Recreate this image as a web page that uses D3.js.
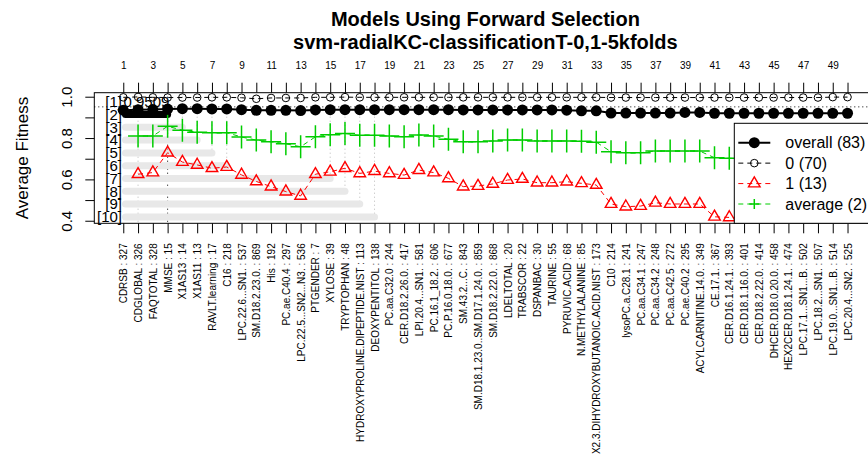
<!DOCTYPE html>
<html><head><meta charset="utf-8">
<script src="https://cdn.jsdelivr.net/npm/d3@7"></script>
<style>
body{margin:0;background:#fff}
svg{display:block}
text{font-family:"Liberation Sans", Arial, Helvetica, sans-serif}
</style>
</head><body>
<svg id="chart" width="868" height="474"></svg>
<script>
// ---------- data ----------
const features = ["CDRSB : 327","CDGLOBAL : 326","FAQTOTAL : 328","MMSE : 15","X1AS13 : 14","X1AS11 : 13",
"RAVLT.learning : 17","C16 : 218","LPC.22.6...SN1. : 537","SM.D18.2.23.0. : 869","His : 192","PC.ae.C40.4 : 297",
"LPC.22.5...SN2...N3. : 536","PTGENDER : 7","XYLOSE : 39","TRYPTOPHAN : 48","HYDROXYPROLINE.DIPEPTIDE.NIST : 113",
"DEOXYPENTITOL : 138","PC.aa.C32.0 : 244","CER.D18.2.26.0. : 417","LPI.20.4...SN1. : 581","PC.16.1_18.2. : 606",
"PC.P.16.0.18.0. : 677","SM.43.2...C. : 843","SM.D18.1.23.0..SM.D17.1.24.0. : 859","SM.D18.2.22.0. : 868",
"LDELTOTAL : 20","TRABSCOR : 22","DSPANBAC : 30","TAURINE : 55","PYRUVIC.ACID : 68","N.METHYLALANINE : 85",
"X2.3.DIHYDROXYBUTANOIC.ACID.NIST : 173","C10 : 214","lysoPC.a.C28.1 : 241","PC.aa.C34.1 : 247","PC.aa.C34.2 : 248",
"PC.aa.C42.5 : 272","PC.ae.C40.2 : 295","ACYLCARNITINE.14.0. : 349","CE.17.1. : 367","CER.D16.1.24.1. : 393",
"CER.D18.1.16.0. : 401","CER.D18.2.22.0. : 414","DHCER.D18.0.20.0. : 458","HEX2CER.D18.1.24.1. : 474",
"LPC.17.1...SN1...B. : 502","LPC.18.2...SN1. : 507","LPC.19.0...SN1...B. : 514","LPC.20.4...SN2. : 525"];

const topTicks = d3.range(1, 51);

const overall = [0.935,0.937,0.938,0.940,0.942,0.942,0.941,0.941,0.937,0.934,
0.934,0.934,0.933,0.936,0.937,0.937,0.937,0.937,0.937,0.937,
0.937,0.937,0.937,0.936,0.936,0.936,0.936,0.936,0.936,0.936,
0.935,0.932,0.932,0.921,0.921,0.921,0.921,0.921,0.924,0.924,
0.920,0.920,0.920,0.920,0.920,0.920,0.920,0.920,0.920,0.920];

const class0 = [0.997,0.999,0.997,0.996,0.996,0.996,0.997,0.997,0.995,0.990,
0.994,0.994,0.994,0.997,0.997,0.998,0.997,0.997,0.997,0.997,
0.997,0.997,0.997,0.997,0.997,0.997,0.997,0.997,0.997,0.997,
0.997,0.997,0.997,0.996,0.996,0.996,0.996,0.996,0.996,0.996,
0.996,0.996,0.996,0.996,0.996,0.996,0.996,0.996,0.998,0.998];

const class1 = [null,0.625,0.633,0.729,0.684,0.670,0.654,0.660,0.622,0.590,
0.565,0.541,0.520,0.625,0.637,0.654,0.629,0.640,0.629,0.621,
0.645,0.633,0.605,0.565,0.568,0.578,0.597,0.602,0.584,0.584,
0.589,0.581,0.573,0.481,0.468,0.471,0.487,0.481,0.481,0.481,
0.419,0.416,0.416,0.416,0.416,0.416,0.416,0.416,0.416,0.416];

const average = [null,0.810,0.810,0.857,0.838,0.828,0.826,0.826,0.805,0.790,
0.782,0.772,0.758,0.806,0.816,0.822,0.813,0.813,0.810,0.806,
0.815,0.810,0.794,0.782,0.782,0.786,0.790,0.790,0.786,0.786,
0.786,0.784,0.780,0.734,0.729,0.729,0.737,0.737,0.737,0.737,
0.705,0.702,0.702,0.702,0.702,0.702,0.702,0.702,0.702,0.702];

const yTicks = [0.4,0.5,0.6,0.7,0.8,0.9,1.0];
const yTickLabels = ["0.4","","0.6","","0.8","","1.0"];

const rankRows = ["[1]","[2]","[3]","[4]","[5]","[6]","[7]","[8]","[9]","[10]"];
const rankEnds = [2,4,5,6,7,8,15,16,17,18];
const bestValue = 0.9509;
const bestValueText = "0.9509";
const bestIndex = 4;

const legendLabels = ["overall (83)","0 (70)","1 (13)","average (2)"];
const titleLines = ["Models Using Forward Selection","svm-radialKC-classificationT-0,1-5kfolds"];
const yTitle = "Average Fitness";

// ---------- layout ----------
const svg = d3.select("#chart");
const box = {left:94.3, right:876.5, top:92.7, bottom:223.3};
const RED = "#ff0000", GREEN = "#00cd00";

const x = d3.scaleLinear().domain([1 - 0.04*49, 50 + 0.04*49]).range([box.left, box.right]);
const y = d3.scaleLinear().domain([0.3876, 1.0194]).range([box.bottom, box.top]);
const rowY = d3.scalePoint().domain(d3.range(1, 11)).range([101.7, 216.9]);

// title
const title = svg.append("g").attr("font-weight","bold").attr("font-size",20).attr("text-anchor","middle");
title.append("text").attr("x",(box.left+box.right)/2).attr("y",25.5).text(titleLines[0]);
title.append("text").attr("x",(box.left+box.right)/2).attr("y",48.5).text(titleLines[1]);

// y title
svg.append("text").attr("transform",`translate(28,${(box.top+box.bottom)/2}) rotate(-90)`)
  .attr("text-anchor","middle").attr("font-size",17).text(yTitle);

// ---------- rank overlay ----------
const overlay = svg.append("g");
// dotted verticals
rankEnds.forEach((e, i) => {
  const r = i + 1;
  const full = r <= 2;
  overlay.append("line")
    .attr("x1", x(e)).attr("x2", x(e))
    .attr("y1", box.top).attr("y2", full ? box.bottom : rowY(r))
    .attr("stroke", r === 2 ? "#000" : "#b8b8b8")
    .attr("stroke-width", 1).attr("stroke-dasharray","1,3");
});
// horizontal best line
overlay.append("line").attr("x1",box.left).attr("x2",box.right)
  .attr("y1",y(bestValue)).attr("y2",y(bestValue))
  .attr("stroke","#000").attr("stroke-dasharray","1,3");
// bars
rankEnds.forEach((e, i) => {
  const r = i + 1;
  if (r === 1) return;
  overlay.append("line")
    .attr("x1", 125.5).attr("x2", x(e))
    .attr("y1", rowY(r)).attr("y2", rowY(r))
    .attr("stroke", r === 2 ? "#000" : "#e8e8e8")
    .attr("stroke-width", 7).attr("stroke-linecap","round");
});
// row labels
overlay.selectAll("text.rl").data(rankRows).join("text").attr("class","rl")
  .attr("x",122).attr("y",(d,i)=>rowY(i+1)).attr("dy","0.35em")
  .attr("text-anchor","end").attr("font-size",15).text(d=>d);
overlay.append("text").attr("x",123.5).attr("y",rowY(1)).attr("dy","0.35em")
  .attr("font-size",15).text(bestValueText);

// ---------- series ----------
const idx = d3.range(1, 51);
function lineFor(arr){
  return d3.line().defined(i => arr[i-1] != null).x(i => x(i)).y(i => y(arr[i-1]))(idx);
}
const plot = svg.append("g");

// average
plot.append("path").attr("d", lineFor(average)).attr("fill","none")
  .attr("stroke",GREEN).attr("stroke-width",1).attr("stroke-dasharray","5,4");
const plusPath = "M-10,0H10M0,-11.5V11.5";
plot.selectAll("path.avg").data(idx.filter(i => average[i-1] != null)).join("path").attr("class","avg")
  .attr("transform", i => `translate(${x(i)},${y(average[i-1])})`)
  .attr("d", plusPath).attr("stroke",GREEN).attr("stroke-width",1.5).attr("fill","none");

// class 1
plot.append("path").attr("d", lineFor(class1)).attr("fill","none")
  .attr("stroke",RED).attr("stroke-width",1).attr("stroke-dasharray","5,4");
const tri = d3.symbol().type(d3.symbolTriangle).size(58)();
plot.selectAll("path.c1").data(idx.filter(i => class1[i-1] != null)).join("path").attr("class","c1")
  .attr("transform", i => `translate(${x(i)},${y(class1[i-1])})`)
  .attr("d", tri).attr("fill","none").attr("stroke",RED).attr("stroke-width",1.4);

// class 0
plot.append("path").attr("d", lineFor(class0)).attr("fill","none")
  .attr("stroke","#000").attr("stroke-width",1).attr("stroke-dasharray","5,4");
plot.selectAll("circle.c0").data(idx).join("circle").attr("class","c0")
  .attr("cx", i => x(i)).attr("cy", i => y(class0[i-1])).attr("r",3.8)
  .attr("fill","none").attr("stroke","#000").attr("stroke-width",1);

// overall
plot.append("path").attr("d", lineFor(overall)).attr("fill","none")
  .attr("stroke","#000").attr("stroke-width",2);
plot.selectAll("circle.ov").data(idx).join("circle").attr("class","ov")
  .attr("cx", i => x(i)).attr("cy", i => y(overall[i-1])).attr("r",5.5).attr("fill","#000");

// ---------- axes ----------
const topAxis = svg.append("g").attr("transform",`translate(0,${box.top})`)
  .call(d3.axisTop(x).tickValues(topTicks).tickFormat(d => d % 2 ? d : "").tickSize(10).tickPadding(14));
topAxis.select(".domain").remove();
topAxis.selectAll("text").attr("font-size",10).attr("font-family",null);

const botAxis = svg.append("g").attr("transform",`translate(0,${box.bottom})`)
  .call(d3.axisBottom(x).tickValues(topTicks).tickFormat(d => features[d-1]).tickSize(10));
botAxis.select(".domain").remove();
botAxis.selectAll("text").attr("font-size",10).attr("font-family",null)
  .attr("transform","rotate(-90)").attr("x",-20).attr("y",0).attr("dy","0.35em")
  .attr("text-anchor","end");

const leftAxis = svg.append("g").attr("transform",`translate(${box.left},0)`)
  .call(d3.axisLeft(y).tickValues(yTicks).tickFormat((d,i) => yTickLabels[i]).tickSize(9));
leftAxis.select(".domain").remove();
leftAxis.selectAll("text").attr("font-size",15).attr("font-family",null)
  .attr("x",0).attr("y",0).attr("dy",0).attr("text-anchor","middle")
  .attr("transform","translate(-22,0) rotate(-90)");

// plot frame
svg.append("rect").attr("x",box.left).attr("y",box.top)
  .attr("width",box.right-box.left).attr("height",box.bottom-box.top)
  .attr("fill","none").attr("stroke","#000").attr("stroke-width",1);

// ---------- legend ----------
const lg = svg.append("g").attr("transform","translate(734.3,123.3)");
lg.append("rect").attr("width",160).attr("height",box.bottom-123.3)
  .attr("fill","#fff").attr("stroke","#000").attr("stroke-width",1);
const ly = d3.scalePoint().domain(legendLabels).range([19.4, 80.7]);
const lgStyles = [
  {stroke:"#000", dash:null, w:2},
  {stroke:"#000", dash:"5,4", w:1},
  {stroke:RED, dash:"5,4", w:1},
  {stroke:GREEN, dash:"5,4", w:1}
];
legendLabels.forEach((lab, i) => {
  const yy = ly(lab), st = lgStyles[i];
  lg.append("line").attr("x1",4).attr("x2",36).attr("y1",yy).attr("y2",yy)
    .attr("stroke",st.stroke).attr("stroke-width",st.w).attr("stroke-dasharray",st.dash);
  const g = lg.append("g").attr("transform",`translate(20,${yy})`);
  if (i === 0) g.append("circle").attr("r",5.5).attr("fill","#000");
  if (i === 1) g.append("circle").attr("r",3.8).attr("fill","none").attr("stroke","#000");
  if (i === 2) g.append("path").attr("d",tri).attr("fill","none").attr("stroke",RED).attr("stroke-width",1.4);
  if (i === 3) g.append("path").attr("d","M-5,0H5M0,-5V5").attr("stroke",GREEN).attr("stroke-width",1.5);
  lg.append("text").attr("x",51).attr("y",yy).attr("dy","0.35em").attr("font-size",16).text(lab);
});
</script>
</body></html>
